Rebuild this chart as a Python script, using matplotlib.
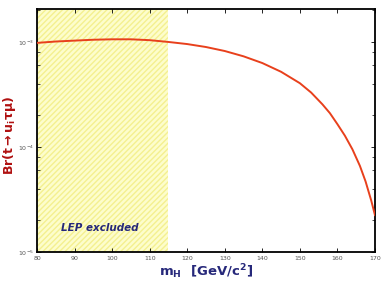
import matplotlib
matplotlib.use("Agg")
import matplotlib.pyplot as plt
from matplotlib.ticker import LogLocator, NullFormatter, MultipleLocator
import numpy as np

plt.rcParams['mathtext.default'] = 'regular'

# data
m_higgs = [80, 85, 90, 95, 100, 105, 110, 115, 120, 125, 130, 135, 140, 145,
           150, 153, 156, 158, 160, 162, 164, 166, 167.5, 169, 170]
br = [0.98e-3, 1.01e-3, 1.03e-3, 1.05e-3, 1.06e-3, 1.06e-3, 1.04e-3, 1.0e-3,
      0.955e-3, 0.895e-3, 0.82e-3, 0.73e-3, 0.63e-3, 0.52e-3,
      0.405e-3, 0.33e-3, 0.255e-3, 0.21e-3, 0.165e-3, 0.128e-3, 0.095e-3,
      0.066e-3, 0.047e-3, 0.031e-3, 0.0225e-3]
lep_limit = 115

fig = plt.figure(figsize=(3.88, 2.81), dpi=100)
ax = fig.add_axes([0.0954, 0.103, 0.871, 0.865])

# LEP excluded band
ax.axvspan(80, lep_limit, facecolor='#fdfdcc', edgecolor='#f4f090',
           hatch='//////', linewidth=0, zorder=0)

ax.plot(m_higgs, br, color='#e8401c', lw=1.4, zorder=3)

ax.set_yscale('log')
ax.set_xlim(80, 170)
ax.set_ylim(1e-5, 2.06e-3)

ax.xaxis.set_major_locator(MultipleLocator(10))
ax.yaxis.set_major_locator(LogLocator(base=10))
ax.yaxis.set_minor_locator(LogLocator(base=10, subs=[2, 4, 6, 8]))
ax.yaxis.set_minor_formatter(NullFormatter())
ax.tick_params(which='both', direction='in', top=True, right=True,
               labelsize=4.5, labelcolor='#555555', pad=3)
ax.tick_params(axis='y', pad=2)
ax.tick_params(which='major', length=3, width=0.6)
ax.tick_params(which='minor', length=2, width=0.5)
for s in ax.spines.values():
    s.set_linewidth(1.3)

ax.text(86.5, 1.6e-5, 'LEP excluded', fontsize=7.5, fontweight='bold',
        style='italic', color='#26287a')

ax.set_xlabel(r'm$_H$  [GeV/c$^2$]', fontsize=9.5, fontweight='bold',
              color='#26287a', labelpad=1)
ax.set_ylabel(r'Br(t$\rightarrow$u$_i$τμ)', fontsize=9, fontweight='bold',
              color='#b01010')
ax.yaxis.set_label_coords(-0.056, 0.48)

fig.savefig('out.png', dpi=100)
